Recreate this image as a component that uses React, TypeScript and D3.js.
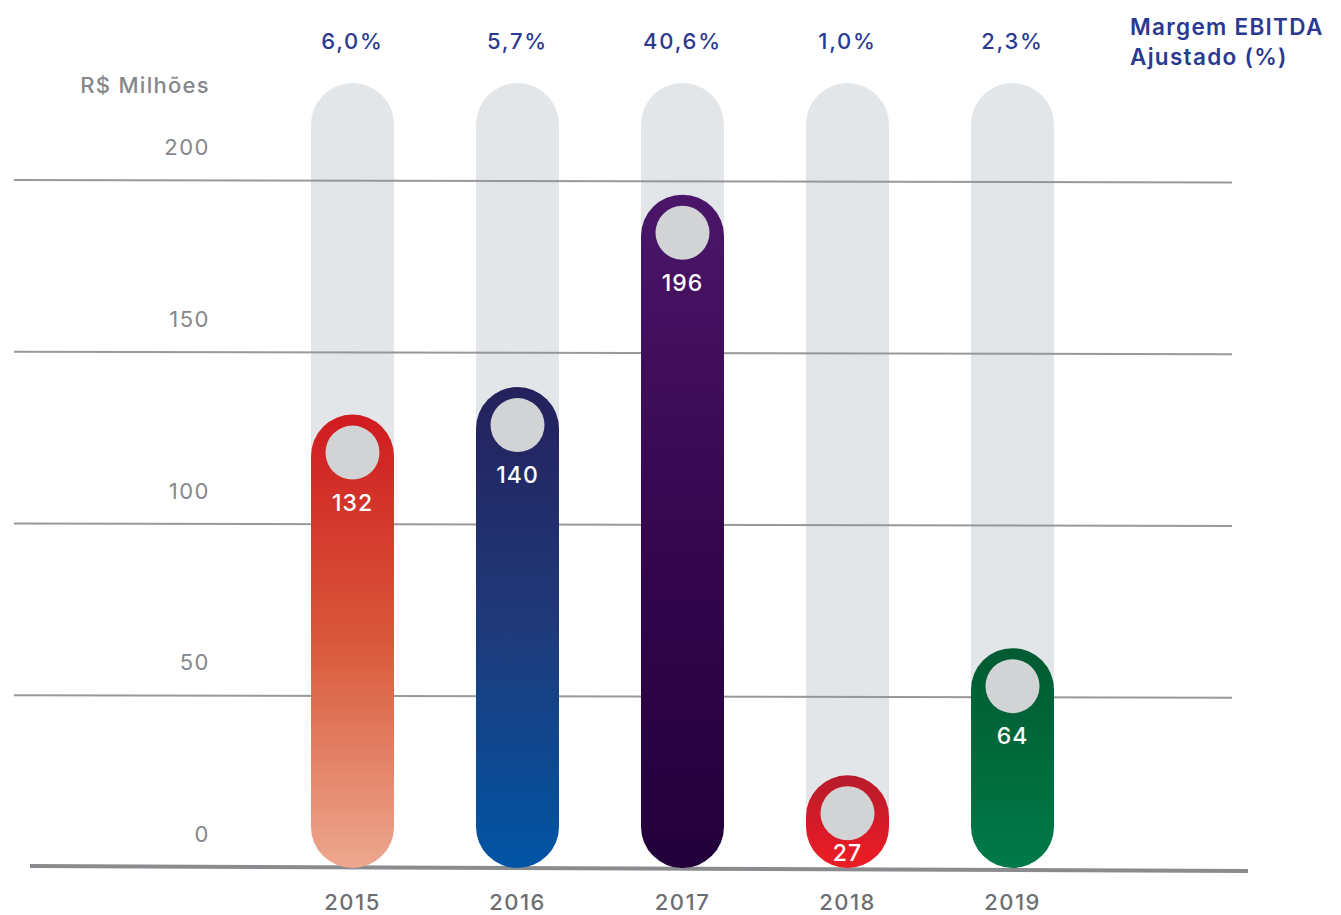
import React from "react";
import * as d3 from "d3";

const years = ["2015", "2016", "2017", "2018", "2019"];
const values = [132, 140, 196, 27, 64];
const margins = ["6,0%", "5,7%", "40,6%", "1,0%", "2,3%"];
const ticks = [0, 50, 100, 150, 200];
const gradTop = ["#d01b20", "#24215c", "#4b1669", "#b61c2c", "#005b31"];
const gradMid = ["#d9583a", "#1f3a7a", "#36064f", "#d41b28", "#006a3c"];
const gradBottom = ["#eda88f", "#0055a5", "#22003a", "#ee1d25", "#007a48"];

const W = 1341;
const H = 915;
const FONT = "Inter, 'Open Sans', sans-serif";

export default function App() {
  const x = d3.scaleBand<string>().domain(years).range([270, 1095]).paddingInner(0).paddingOuter(0);
  const y = d3.scaleLinear().domain([0, 200]).range([868, 181]);
  const bw = 83;
  const r = bw / 2;
  const cx = (yr: string) => (x(yr) as number) + x.bandwidth() / 2;

  const pill = (cxv: number, top: number, bottom: number) => {
    const p = d3.path();
    p.moveTo(cxv - r, top + r);
    p.arc(cxv, top + r, r, Math.PI, 0);
    p.lineTo(cxv + r, bottom - r);
    p.arc(cxv, bottom - r, r, 0, Math.PI);
    p.closePath();
    return p.toString();
  };

  return (
    <svg width={W} height={H} style={{ position: "absolute", left: 0, top: 0 }}>
      <defs>
        {years.map((yr, i) => (
          <linearGradient key={yr} id={`g${i}`} x1="0" y1="0" x2="0" y2="1">
            <stop offset="0" stopColor={gradTop[i]} />
            <stop offset="0.5" stopColor={gradMid[i]} />
            <stop offset="1" stopColor={gradBottom[i]} />
          </linearGradient>
        ))}
      </defs>
      <rect width={W} height={H} fill="#ffffff" />
      {years.map((yr) => (
        <path key={`bg${yr}`} d={pill(cx(yr), 83, y(0))} fill="#e3e6e9" />
      ))}
      {ticks.filter((t) => t > 0).map((t) => (
        <line key={`gl${t}`} x1={14} x2={1232} y1={y(t) - 1} y2={y(t) + 1.5} stroke="#8e8f92" strokeWidth={2} opacity={0.9} />
      ))}
      <line x1={30} x2={1248} y1={y(0) - 2} y2={y(0) + 3} stroke="#8a8b8e" strokeWidth={4} />
      <text x={210} y={85} textAnchor="end" dominantBaseline="central" fontFamily={FONT} fontSize={22} fontWeight={500} letterSpacing={1.3} fill="#85878a">
        R$ Milhões
      </text>
      {ticks.map((t) => (
        <text key={`tl${t}`} x={210} y={y(t) - 34} textAnchor="end" dominantBaseline="central" fontFamily={FONT} fontSize={22} letterSpacing={1.5} fill="#85878a">
          {t}
        </text>
      ))}
      {years.map((yr, i) => {
        const top = y(values[i]);
        const c = cx(yr);
        return (
          <g key={`b${yr}`}>
            <path d={pill(c, top, y(0))} fill={`url(#g${i})`} />
            <circle cx={c} cy={top + 38} r={27} fill="#d1d3d4" />
            <text x={c} y={Math.min(top + 88, y(0) - 15)} textAnchor="middle" dominantBaseline="central" fontFamily={FONT} fontSize={23} fontWeight={500} letterSpacing={1} fill="#ffffff">
              {values[i]}
            </text>
            <text x={c} y={41} textAnchor="middle" dominantBaseline="central" fontFamily={FONT} fontSize={22} fontWeight={500} letterSpacing={1.8} fill="#2b3990">
              {margins[i]}
            </text>
            <text x={c} y={910} textAnchor="middle" fontFamily={FONT} fontSize={22} fontWeight={500} letterSpacing={1.5} fill="#6d6e71">
              {yr}
            </text>
          </g>
        );
      })}
      <text x={1130} y={26} dominantBaseline="central" fontFamily={FONT} fontSize={22.5} fontWeight={600} letterSpacing={1.3} fill="#2b3990">
        Margem EBITDA
      </text>
      <text x={1130} y={56} dominantBaseline="central" fontFamily={FONT} fontSize={22.5} fontWeight={600} letterSpacing={1.3} fill="#2b3990">
        Ajustado (%)
      </text>
    </svg>
  );
}
